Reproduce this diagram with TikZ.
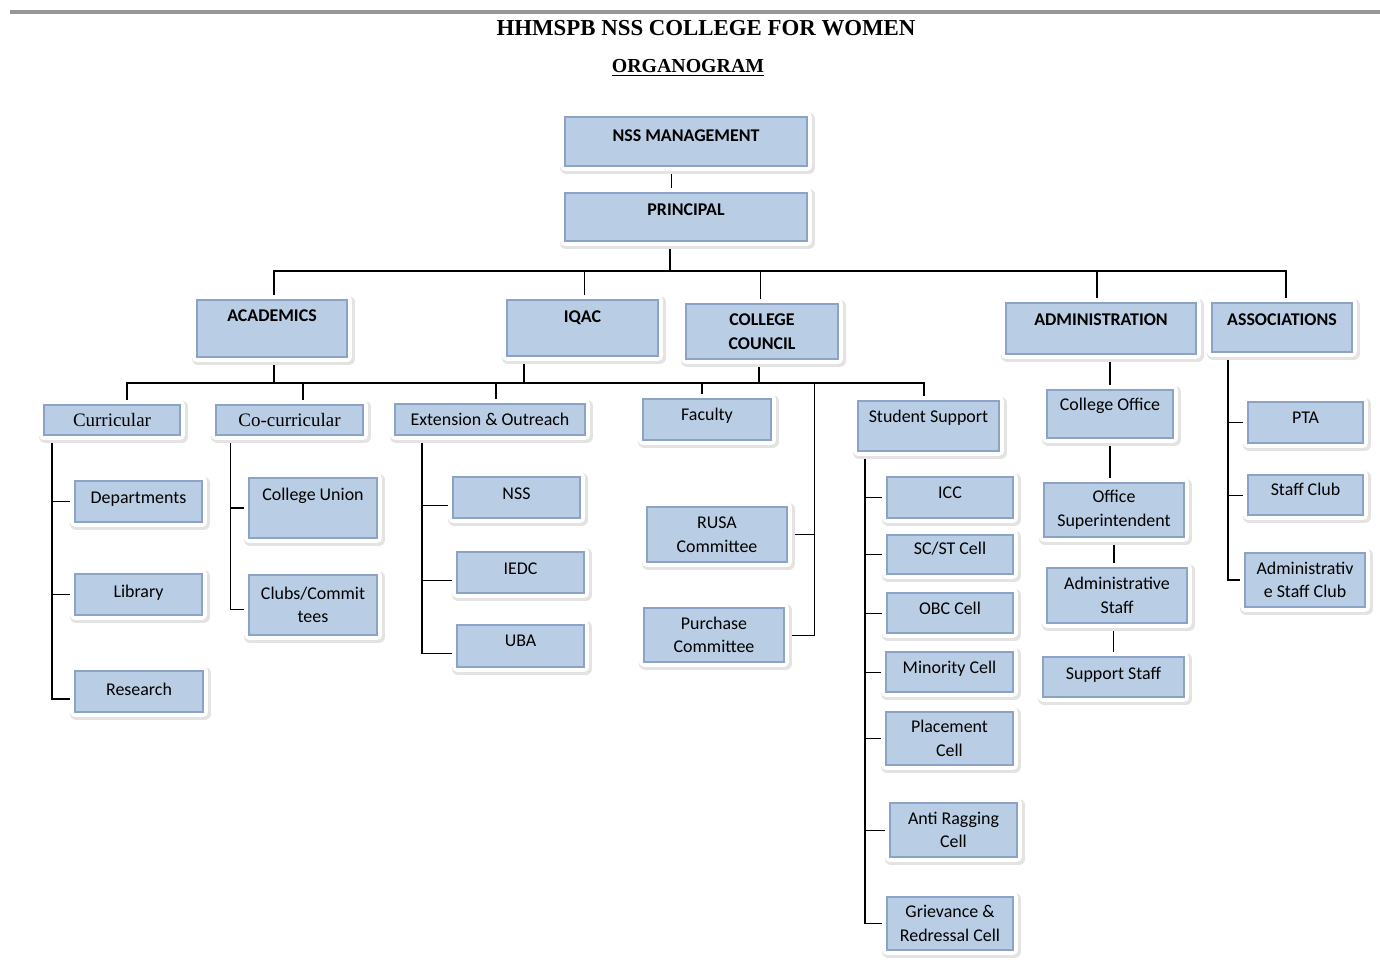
\documentclass[tikz,border=0pt]{standalone}
\usepackage{fontspec}
\setmainfont{Carlito}
\newfontfamily\serifttl{Liberation Serif}
\usetikzlibrary{backgrounds,calc}
\definecolor{boxblue}{RGB}{185,205,229}
\definecolor{boxedge}{RGB}{140,162,198}
\definecolor{rulegray}{RGB}{150,150,150}

\begin{document}
\begin{tikzpicture}[x=0.02cm, y=-0.02cm,
    unit/.style={draw=boxedge, fill=boxblue, line width=0.9pt, inner xsep=2pt, inner ysep=1pt,
        align=center, font=\fontsize{10.2}{13.4}\selectfont,
        preaction={draw=black!11, line width=0.26cm, line join=round,
            transform canvas={shift={(0.03cm,-0.04cm)}}},
        preaction={draw=white, line width=0.2cm, line join=round}},
    head/.style={unit, font=\fontsize{10.2}{13.4}\selectfont\bfseries},
    serifunit/.style={unit, font=\fontsize{10.8}{13}\selectfont\serifttl},
    lift/.style={text height=0.26cm, text depth=#1},
    conn/.style={line width=1pt},
    thinconn/.style={line width=0.55pt},
]
\useasboundingbox (0,0) rectangle (1380,976);

% page rule and headings
\draw[rulegray, line width=0.08cm] (10,12) -- (1380,12);
\node[font=\serifttl\bfseries\fontsize{13}{15}\selectfont] (title) at (706,28) {HHMSPB NSS COLLEGE FOR WOMEN};
\node[font=\serifttl\bfseries\fontsize{11.3}{13}\selectfont] (organo) at (688,68) {\underline{ORGANOGRAM}};

% top levels
\node[head, lift=0.24cm, minimum width=4.84cm, minimum height=0.98cm] (mgmt) at (686,141.5) {NSS MANAGEMENT};
\node[head, lift=0.30cm, minimum width=4.84cm, minimum height=0.96cm] (principal) at (686,217) {PRINCIPAL};

\node[head, lift=0.52cm, minimum width=3cm, minimum height=1.14cm] (acad) at (272,328.5) {ACADEMICS};
\node[head, lift=0.46cm, minimum width=3.02cm, minimum height=1.12cm] (iqac) at (582.5,328) {IQAC};
\node[head, minimum width=3.04cm, minimum height=1.1cm] (council) at (762,331.5) {COLLEGE\\COUNCIL};
\node[head, lift=0.36cm, minimum width=3.8cm, minimum height=1.02cm] (admin) at (1101,328.5) {ADMINISTRATION};
\node[head, lift=0.32cm, minimum width=2.8cm, minimum height=0.98cm] (assoc) at (1282,327.5) {ASSOCIATIONS};

% second row
\node[serifunit, minimum width=2.72cm, minimum height=0.6cm] (curr) at (112,420) {Curricular};
\node[serifunit, minimum width=2.94cm, minimum height=0.6cm] (cocurr) at (289.5,420) {Co-curricular};
\node[unit, minimum width=3.8cm, minimum height=0.62cm] (ext) at (490,419.5) {Extension \& Outreach};
\node[unit, lift=0.20cm, minimum width=2.56cm, minimum height=0.82cm] (faculty) at (707,419.5) {Faculty};
\node[unit, lift=0.38cm, minimum width=2.82cm, minimum height=1cm] (stud) at (928.5,426) {Student Support};
\node[unit, lift=0.38cm, minimum width=2.52cm, minimum height=0.96cm] (coffice) at (1110,414) {College Office};

% curricular / co-curricular
\node[unit, lift=0.16cm, minimum width=2.54cm, minimum height=0.82cm] (dept) at (138.5,501.5) {Departments};
\node[unit, lift=0.16cm, minimum width=2.54cm, minimum height=0.82cm] (library) at (138.5,594.5) {Library};
\node[unit, lift=0.12cm, minimum width=2.56cm, minimum height=0.82cm] (research) at (139,691.5) {Research};
\node[unit, lift=0.58cm, minimum width=2.56cm, minimum height=1.2cm] (union) at (313,508) {College Union};
\node[unit, minimum width=2.56cm, minimum height=1.2cm] (clubs) at (313,605) {Clubs/Commit\\tees};

% extension
\node[unit, lift=0.16cm, minimum width=2.54cm, minimum height=0.82cm] (nss) at (516.5,497.5) {NSS};
\node[unit, lift=0.20cm, minimum width=2.54cm, minimum height=0.82cm] (iedc) at (520.5,572.5) {IEDC};
\node[unit, lift=0.26cm, minimum width=2.54cm, minimum height=0.84cm] (uba) at (520.5,646) {UBA};

% college council
\node[unit, minimum width=2.8cm, minimum height=1.1cm] (rusa) at (717,534.5) {RUSA\\Committee};
\node[unit, minimum width=2.8cm, minimum height=1.08cm] (purchase) at (714,635) {Purchase\\Committee};

% student support
\node[unit, lift=0.20cm, minimum width=2.52cm, minimum height=0.82cm] (icc) at (950,497.5) {ICC};
\node[unit, lift=0.24cm, minimum width=2.52cm, minimum height=0.78cm] (scst) at (950,554.5) {SC/ST Cell};
\node[unit, lift=0.22cm, minimum width=2.52cm, minimum height=0.8cm] (obc) at (950,613) {OBC Cell};
\node[unit, lift=0.22cm, minimum width=2.54cm, minimum height=0.8cm] (minority) at (949.5,672) {Minority Cell};
\node[unit, minimum width=2.54cm, minimum height=1.06cm] (placement) at (949.5,738.5) {Placement\\Cell};
\node[unit, minimum width=2.54cm, minimum height=1.08cm] (antirag) at (953.5,830) {Anti Ragging\\Cell};
\node[unit, minimum width=2.52cm, minimum height=1.06cm] (griev) at (950,923.5) {Grievance \&\\Redressal Cell};

% administration
\node[unit, minimum width=2.8cm, minimum height=1.08cm] (osup) at (1114,510) {Office\\Superintendent};
\node[unit, minimum width=2.8cm, minimum height=1.1cm] (astaff) at (1117,595.5) {Administrative\\Staff};
\node[unit, lift=0.18cm, minimum width=2.82cm, minimum height=0.8cm] (sstaff) at (1113.5,677) {Support Staff};

% associations
\node[unit, lift=0.20cm, minimum width=2.3cm, minimum height=0.82cm] (pta) at (1305.5,422.5) {PTA};
\node[unit, lift=0.22cm, minimum width=2.3cm, minimum height=0.8cm] (staffclub) at (1305.5,495) {Staff Club};
\node[unit, minimum width=2.4cm, minimum height=1.08cm] (asclub) at (1305,580) {Administrativ\\e Staff Club};

% connectors, kept behind the boxes
\begin{scope}[on background layer]
\coordinate (bus1) at (0,271);
\coordinate (bus2) at (0,383);
\coordinate (ccline) at (814,383);
\coordinate (spcurr) at (52,0);
\coordinate (spco) at (230,0);
\coordinate (spext) at (422,0);
\coordinate (spstud) at (865,0);
\coordinate (spassoc) at (1228,0);

\draw[thinconn] ([xshift=-0.3cm]mgmt.south) -- ([xshift=-0.3cm]principal.north);
\draw[conn] ([xshift=-0.32cm]principal.south) -- ([xshift=-0.32cm]principal.south |- bus1);
\draw[conn] ([xshift=0.04cm]acad.north) |- ([xshift=0.08cm]assoc.north |- bus1) -- ([xshift=0.08cm]assoc.north);
\draw[thinconn] ([xshift=0.03cm]iqac.north) -- ([xshift=0.03cm]iqac.north |- bus1);
\draw[thinconn] ([xshift=-0.04cm]council.north) -- ([xshift=-0.04cm]council.north |- bus1);
\draw[conn] ([xshift=-0.08cm]admin.north) -- ([xshift=-0.08cm]admin.north |- bus1);

\draw[conn] ([xshift=0.04cm]acad.south) -- ([xshift=0.04cm]acad.south |- bus2);
\draw[conn] ([xshift=-1.17cm]iqac.south) -- ([xshift=-1.17cm]iqac.south |- bus2);
\draw[conn] ([xshift=-0.06cm]council.south) -- ([xshift=-0.06cm]council.south |- bus2);
\draw[conn] ([xshift=0.3cm]curr.north) |- ([xshift=-0.09cm]stud.north |- bus2) -- ([xshift=-0.09cm]stud.north);
\draw[conn] ([xshift=0.27cm]cocurr.north) -- ([xshift=0.27cm]cocurr.north |- bus2);
\draw[conn] ([xshift=0.12cm]ext.north) -- ([xshift=0.12cm]ext.north |- bus2);
\draw[conn] ([xshift=-0.1cm]faculty.north) -- ([xshift=-0.1cm]faculty.north |- bus2);

\draw[conn] (curr.south -| spcurr) |- ([yshift=-0.15cm]research.west);
\draw[conn] (dept.west) -- (dept.west -| spcurr);
\draw[conn] (library.west) -- (library.west -| spcurr);

\draw[thinconn] (cocurr.south -| spco) |- ([yshift=-0.08cm]clubs.west);
\draw[conn] (union.west) -- (union.west -| spco);

\draw[conn] (ext.south -| spext) |- ([yshift=-0.15cm]uba.west);
\draw[thinconn] ([yshift=-0.15cm]nss.west) -- ([yshift=-0.15cm]nss.west -| spext);
\draw[thinconn] ([yshift=-0.15cm]iedc.west) -- ([yshift=-0.15cm]iedc.west -| spext);

\draw[thinconn] (ccline) |- (purchase.east);
\draw[thinconn] (rusa.east) -- (rusa.east -| ccline);

\draw[conn] (stud.south -| spstud) |- (griev.west);
\foreach \cell in {icc,scst,obc,minority,placement,antirag}
    \draw[thinconn] (\cell.west) -- (\cell.west -| spstud);

\draw[conn] (coffice.north) -- (coffice.north |- admin.south);
\draw[conn] (coffice.south) -- (coffice.south |- osup.north);
\draw[conn] (osup.south) -- (osup.south |- astaff.north);
\draw[conn] (sstaff.north) -- (sstaff.north |- astaff.south);

\draw[conn] (assoc.south -| spassoc) |- (asclub.west);
\draw[thinconn] (pta.west) -- (pta.west -| spassoc);
\draw[thinconn] (staffclub.west) -- (staffclub.west -| spassoc);
\end{scope}
\end{tikzpicture}
\end{document}
